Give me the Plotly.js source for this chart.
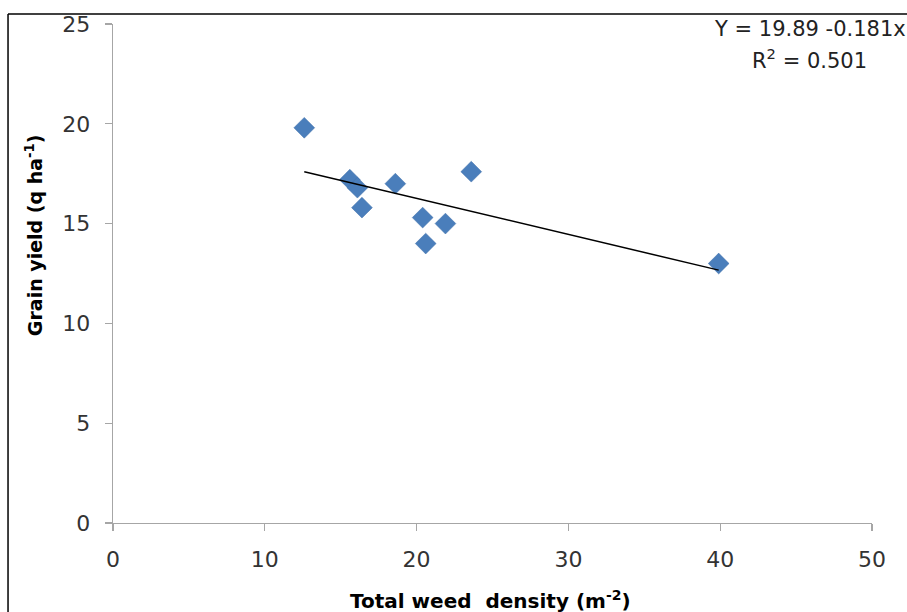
<!DOCTYPE html>
<html>
<head>
<meta charset="utf-8">
<script src="https://cdn.plot.ly/plotly-3.0.1.min.js"></script>
<style>
html,body{margin:0;padding:0;background:#fff;}
#chart{width:907px;height:612px;}
</style>
</head>
<body>
<div id="chart"></div>
<script>
// Data
var weedDensity = [12.6, 15.6, 16.1, 16.4, 18.6, 23.6, 20.4, 21.9, 20.6, 39.9];
var grainYield  = [19.8, 17.2, 16.8, 15.8, 17.0, 17.6, 15.3, 15.0, 14.0, 13.0];
// Fitted trend line (endpoints as drawn in the reference)
var trendX = [12.6, 39.9];
var trendY = [17.6, 12.67];
var xTicks = [0, 10, 20, 30, 40, 50];
var yTicks = [0, 5, 10, 15, 20, 25];
var equationText = "Y = 19.89 -0.181x";
var r2Text = "R<sup>2</sup> = 0.501";
var xTitle = "Total weed  density (m<sup>-2</sup>)";
var yTitle = "Grain yield (q ha<sup>-1</sup>)";

var FONT = "DejaVu Sans, Liberation Sans, sans-serif";
var axisCol = "#a6a6a6";

var traces = [
  {
    x: weedDensity, y: grainYield, type: "scatter", mode: "markers",
    marker: {symbol: "diamond", size: 16, color: "#4a7ebb", line: {width: 0.5, color: "#3f6fa8"}},
    hoverinfo: "x+y", showlegend: false
  },
  {
    x: trendX, y: trendY, type: "scatter", mode: "lines",
    line: {color: "#000000", width: 1.5}, showlegend: false, hoverinfo: "skip"
  }
];

var layout = {
  width: 907, height: 612,
  margin: {l: 113, r: 35, t: 24, b: 89, pad: 0},
  paper_bgcolor: "#ffffff", plot_bgcolor: "#ffffff",
  font: {family: FONT, color: "#333333", size: 22},
  xaxis: {
    range: [0, 50], tickvals: xTicks, ticktext: xTicks.map(String),
    showgrid: false, zeroline: false, showline: true, linecolor: axisCol, linewidth: 1.3,
    ticks: "outside", ticklen: 7, tickcolor: axisCol, tickwidth: 1.3,
    tickfont: {family: FONT, size: 22, color: "#333333"}, ticklabelstandoff: 9,
    fixedrange: true
  },
  yaxis: {
    range: [0, 25], tickvals: yTicks, ticktext: yTicks.map(String),
    showgrid: false, zeroline: false, showline: true, linecolor: axisCol, linewidth: 1.3,
    ticks: "outside", ticklen: 7, tickcolor: axisCol, tickwidth: 1.3,
    tickfont: {family: FONT, size: 22, color: "#333333"}, ticklabelstandoff: 10,
    fixedrange: true
  },
  annotations: [
    {text: equationText, xref: "paper", yref: "paper", x: 0.918, y: 0.99,
     xanchor: "center", yanchor: "middle", showarrow: false,
     font: {family: FONT, size: 21, color: "#222222"}},
    {text: r2Text, xref: "paper", yref: "paper", x: 0.917, y: 0.929,
     xanchor: "center", yanchor: "middle", showarrow: false,
     font: {family: FONT, size: 21, color: "#222222"}},
    {text: "<b>" + xTitle + "</b>", xref: "paper", yref: "paper", x: 0.497, y: -0.154,
     xanchor: "center", yanchor: "middle", showarrow: false,
     font: {family: FONT, size: 20, color: "#000000"}},
    {text: "<b>" + yTitle + "</b>", xref: "paper", yref: "paper", x: -0.104, y: 0.577,
     xanchor: "center", yanchor: "middle", showarrow: false, textangle: -90,
     font: {family: FONT, size: 19, color: "#000000"}}
  ],
  shapes: [
    {type: "line", xref: "paper", yref: "paper", x0: -0.1383, x1: -0.1383, y0: 1.02, y1: -0.19,
     line: {color: "#000000", width: 1.5}, layer: "above"},
    {type: "line", xref: "paper", yref: "paper", x0: -0.1383, x1: 1.06, y0: 1.02, y1: 1.02,
     line: {color: "#000000", width: 1.5}, layer: "above"}
  ]
};

Plotly.newPlot("chart", traces, layout, {displayModeBar: false, staticPlot: true});
</script>
</body>
</html>
